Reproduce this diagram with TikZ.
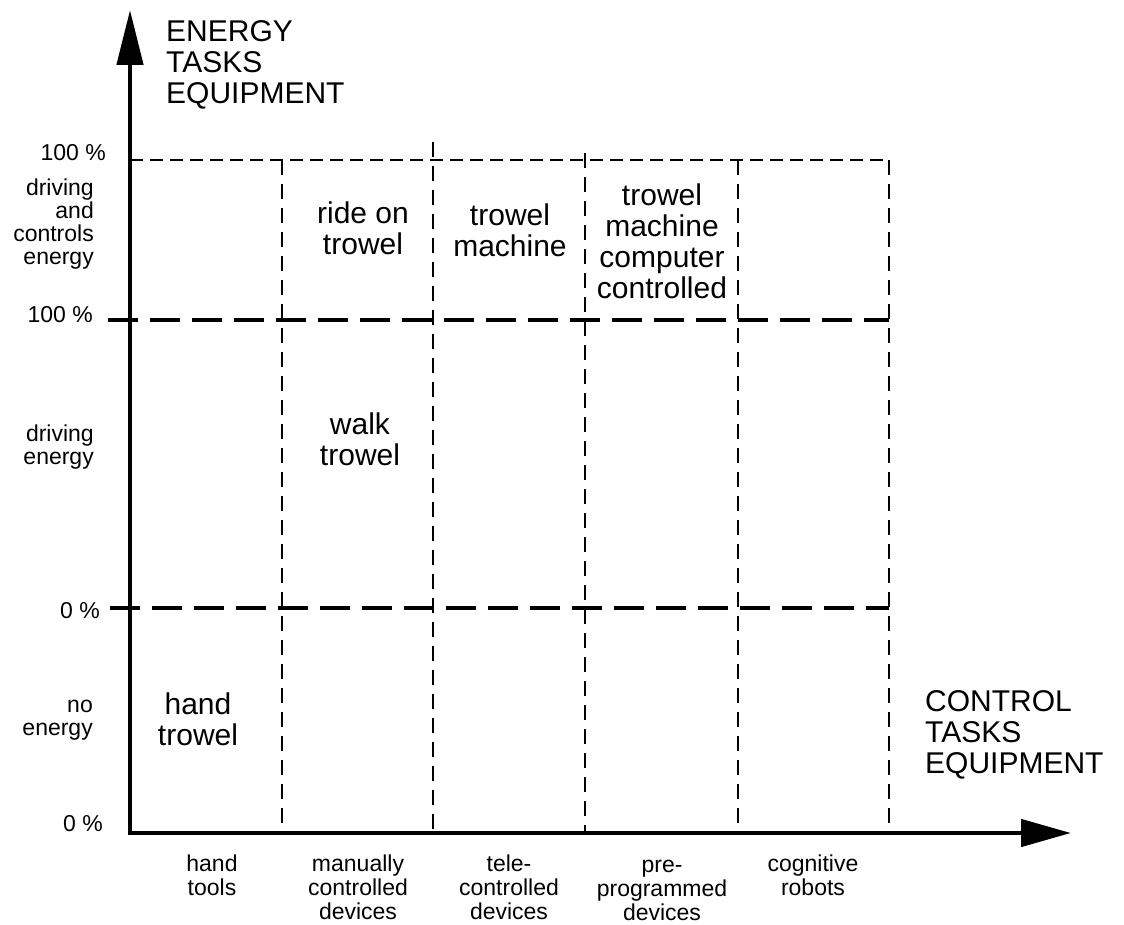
\documentclass[tikz,border=0pt]{standalone}
\usepackage{fontspec}
\setmainfont{Liberation Sans}
\usetikzlibrary{arrows.meta}
\usetikzlibrary{positioning}
\tikzset{cell label/.style={font=\fontsize{30}{31}\selectfont, align=center, inner sep=0pt}}
\tikzset{side label/.style={font=\fontsize{23}{23}\selectfont, align=right, anchor=east, inner sep=0pt}}
\tikzset{class label/.style={font=\fontsize{23}{24}\selectfont, align=center, anchor=north, inner sep=0pt}}

\begin{document}
\begin{tikzpicture}[x=1pt, y=-1pt,
    axis/.style={line width=4.5pt, line join=miter,
      {Triangle[length=55pt,width=26pt]}-{Triangle[length=50pt,width=27pt]}},
    bigdash/.style={line width=4pt, dash pattern=on 30pt off 12pt},
    thindash/.style={line width=1.4pt, dash pattern=on 13pt off 7pt},
    coldash/.style={line width=1.2pt, dash pattern=on 15pt off 9pt}]
  \useasboundingbox (0,0) rectangle (1124,925);
  \coordinate (ytip) at (130,10);
  \coordinate (O) at (130,833);
  \coordinate (xtip) at (1071,833);
  % grid
  \draw[thindash] (130,160) -- (889,160);
  \foreach \x/\top in {282/160,433/142,585/153,738/160,889/160}
    \draw[coldash] (\x,\top) -- (\x,833);
  \draw[bigdash] (108,320) -- (889,320);
  \draw[bigdash] (110,608) -- (889,608);
  % axes
  \draw[axis] (ytip) -- (O) -- (xtip);
  \node[cell label, anchor=north west, align=left] (ytitle) at (166,20)
    {ENERGY\\TASKS\\EQUIPMENT};
  \node[cell label, anchor=north west, align=left] (xtitle) at (925,690)
    {CONTROL\\TASKS\\EQUIPMENT};
  % levels
  \node[side label] (top100) at (106,153) {100 \%};
  \node[side label] (ctrlE) at (94,224) {driving\\and\\controls\\energy};
  \node[side label] (mid100) at (93,315) {100 \%};
  \node[side label] (driveE) at (94,447) {driving\\energy};
  \node[side label] (mid0) at (100,611) {0 \%};
  \node[side label] (noE) at (93,720) {no\\energy};
  \node[side label] (bot0) at (103,824) {0 \%};
  % classes
  \node[class label] (tools) at (212,855) {hand\\tools};
  \node[class label] (manual) at (358,855) {manually\\controlled\\devices};
  \node[class label] (tele) at (509,855) {tele-\\controlled\\devices};
  \node[class label] (prog) at (662,860) {pre-\\programmed\\devices};
  \node[class label] (robots) at (813,855) {cognitive\\robots};
  % equipment
  \node[cell label] (handT) at (198,719) {hand\\trowel};
  \node[cell label] (walkT) at (360,439) {walk\\trowel};
  \node[cell label] (rideT) at (363,228) {ride on\\trowel};
  \node[cell label] (machT) at (510,230) {trowel\\machine};
  \node[cell label] (compT) at (662,241) {trowel\\machine\\computer\\controlled};
\end{tikzpicture}
\end{document}
